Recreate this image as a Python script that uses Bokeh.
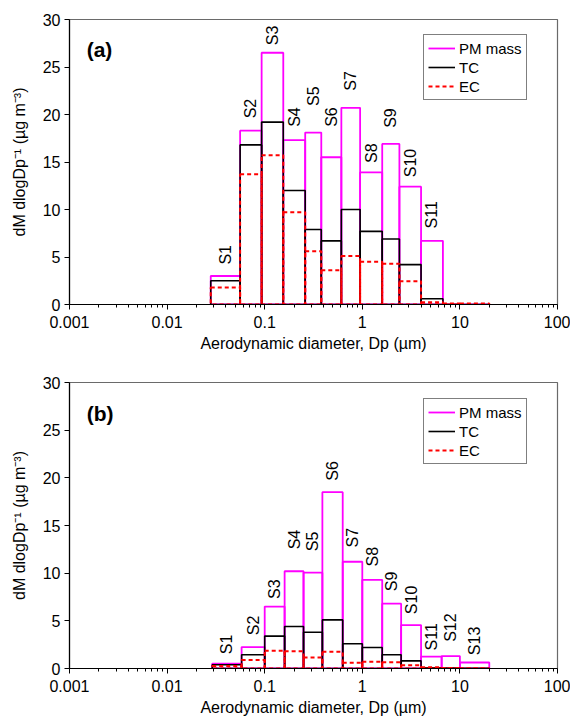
import math
from bokeh.plotting import figure
from bokeh.layouts import column
from bokeh.models import (Range1d, FixedTicker, CustomJSTickFormatter, Legend, LegendItem,
                          ColumnDataSource)
from bokeh.core.properties import value
from bokeh.embed import file_html
from bokeh.resources import INLINE

# ---------------- data ----------------
# panel (a)
a_edges = [0.028, 0.056, 0.093, 0.155, 0.26, 0.38, 0.61, 0.95, 1.6, 2.4, 4.0, 6.7, 10, 20]
a_pm = [3.0, 18.3, 26.5, 17.3, 18.1, 15.5, 20.7, 13.9, 16.9, 12.4, 6.7, 0.0, 0.0]
a_tc = [2.5, 16.8, 19.2, 12.0, 7.9, 6.7, 10.0, 7.7, 6.9, 4.2, 0.6, 0.0, 0.0]
a_ec = [1.8, 13.7, 15.7, 9.7, 5.6, 3.6, 5.1, 4.5, 4.3, 2.45, 0.25, 0.1, 0.1]
a_labels = ["S1", "S2", "S3", "S4", "S5", "S6", "S7", "S8", "S9", "S10", "S11"]
a_label_y = [4.2, 19.6, 27.3, 18.7, 20.9, 18.7, 22.5, 14.9, 18.6, 13.4, 8.0]

# panel (b)
b_edges = [0.029, 0.058, 0.1, 0.16, 0.25, 0.39, 0.63, 1.0, 1.6, 2.5, 4.0, 6.5, 10, 20]
b_pm = [0.5, 2.25, 6.5, 10.2, 10.05, 18.5, 11.2, 9.3, 6.8, 4.55, 1.25, 1.3, 0.63]
b_tc = [0.4, 1.45, 3.4, 4.4, 3.8, 5.1, 2.6, 2.2, 1.45, 0.8, 0.08, 0.05, 0.03]
b_ec = [0.25, 0.9, 1.85, 1.8, 1.15, 1.75, 0.6, 0.7, 0.65, 0.35, 0.12, 0.05, 0.03]
b_labels = ["S1", "S2", "S3", "S4", "S5", "S6", "S7", "S8", "S9", "S10", "S11", "S12", "S13"]
b_label_y = [1.5, 3.5, 7.3, 12.5, 12.3, 19.7, 12.7, 10.7, 8.1, 5.7, 1.9, 2.8, 1.4]

x_ticks = [0.001, 0.01, 0.1, 1, 10, 100]
y_ticks = [0, 5, 10, 15, 20, 25, 30]
series_names = ["PM mass", "TC", "EC"]

FONT = "Liberation Sans"
PM_COLOR = "#FF00FF"
TC_COLOR = "#000000"
EC_COLOR = "#FF0000"


def make_panel(edges, pm, tc, ec, labels, label_y, tag, height, top_border, bottom_border):
    p = figure(width=570, height=height, x_axis_type="log",
               x_range=Range1d(0.001, 100), y_range=Range1d(0, 30),
               output_backend="svg", toolbar_location=None,
               min_border_left=69, min_border_right=13,
               min_border_top=top_border, min_border_bottom=bottom_border)
    p.background_fill_color = "white"
    p.border_fill_color = "white"
    p.outline_line_color = "#6a6a6a"
    p.outline_line_width = 1.2
    p.xgrid.visible = False
    p.ygrid.visible = False

    minors = []
    for d in range(-3, 2):
        for m in range(2, 10):
            minors.append(m * 10.0 ** d)
    p.xaxis.ticker = FixedTicker(ticks=x_ticks, minor_ticks=minors)
    p.xaxis.formatter = CustomJSTickFormatter(code="return String(tick);")
    p.yaxis.ticker = FixedTicker(ticks=y_ticks)

    for ax in (p.xaxis[0], p.yaxis[0]):
        ax.axis_line_color = "black"
        ax.axis_line_width = 1.2
        ax.major_tick_line_color = "black"
        ax.major_tick_in = 0
        ax.major_tick_out = 5
        ax.minor_tick_in = 0
        ax.minor_tick_out = 3
        ax.minor_tick_line_color = "black"
        ax.major_label_text_font = FONT
        ax.major_label_text_font_size = "16px"
        ax.major_label_text_color = "black"
        ax.axis_label_text_font = FONT
        ax.axis_label_text_font_style = "normal"
        ax.axis_label_text_color = "black"
    p.yaxis.minor_tick_line_color = None
    p.xaxis.axis_label = "Aerodynamic diameter, Dp (\u00b5m)"
    p.xaxis.axis_label_text_font_size = "16px"
    p.xaxis.axis_label_standoff = 4
    p.xaxis.major_label_standoff = 6
    p.yaxis.axis_label = "dM dlogDp\u207b\u00b9 (\u00b5g m\u207b\u00b3)"
    p.yaxis.axis_label_text_font_size = "16px"
    p.yaxis.axis_label_standoff = 12
    p.yaxis.major_label_standoff = 4

    left = edges[:-1]
    right = edges[1:]
    src = ColumnDataSource(dict(left=left, right=right, pm=pm, tc=tc, ec=ec,
                                bottom=[0] * len(pm)))
    p.quad(left="left", right="right", bottom="bottom", top="pm", source=src,
           fill_alpha=0, line_color=PM_COLOR, line_width=1.8)
    p.quad(left="left", right="right", bottom="bottom", top="tc", source=src,
           fill_alpha=0, line_color=TC_COLOR, line_width=1.6)
    p.quad(left="left", right="right", bottom="bottom", top="ec", source=src,
           fill_alpha=0, line_color=EC_COLOR, line_width=2, line_dash="4 3")

    # hidden line renderers used only for the legend swatches
    l_pm = p.line(x="left", y="pm", source=src, line_color=PM_COLOR, line_width=1.8,
                  visible=False)
    l_tc = p.line(x="left", y="tc", source=src, line_color=TC_COLOR, line_width=1.6,
                  visible=False)
    l_ec = p.line(x="left", y="ec", source=src, line_color=EC_COLOR, line_width=2,
                  line_dash="4 3", visible=False)

    n = len(labels)
    centers = [math.sqrt(edges[i] * edges[i + 1]) for i in range(n)]
    lsrc = ColumnDataSource(dict(x=centers, y=label_y, t=labels))
    p.text(x="x", y="y", text="t", source=lsrc, angle=math.pi / 2,
           text_align="left", text_baseline="middle",
           text_font=value(FONT), text_font_size="16px", text_color="black")

    p.text(x=[0.0015], y=[26.8], text=[tag], text_align="left", text_baseline="middle",
           text_font=value(FONT), text_font_size="21px", text_font_style="bold",
           text_color="black")

    legend = Legend(items=[LegendItem(label=series_names[0], renderers=[l_pm]),
                           LegendItem(label=series_names[1], renderers=[l_tc]),
                           LegendItem(label=series_names[2], renderers=[l_ec])],
                    location=(354, 204), click_policy="none")
    legend.inactive_fill_alpha = 0
    legend.label_text_font = FONT
    legend.label_text_font_size = "15px"
    legend.label_text_color = "black"
    legend.border_line_color = "black"
    legend.border_line_width = 1
    legend.background_fill_alpha = 1
    legend.padding = 4
    legend.spacing = 1
    legend.margin = 0
    legend.glyph_width = 27
    legend.glyph_height = 18
    legend.label_height = 18
    legend.label_standoff = 4
    p.add_layout(legend, "center")
    return p


top = make_panel(a_edges, a_pm, a_tc, a_ec, a_labels, a_label_y, "(a)", 356, 19, 52)
bot = make_panel(b_edges, b_pm, b_tc, b_ec, b_labels, b_label_y, "(b)", 362, 26, 48)

layout = column(top, bot, spacing=0)
open("out.html", "w").write(file_html(layout, INLINE))
